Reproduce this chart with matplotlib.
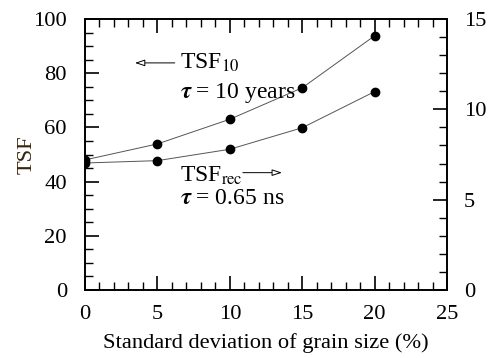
import matplotlib
matplotlib.use("Agg")
import matplotlib.pyplot as plt
from matplotlib.ticker import MultipleLocator

plt.rcParams['font.family'] = ['Liberation Serif', 'DejaVu Serif']
plt.rcParams['mathtext.fontset'] = 'stix'

sigma = [0, 5, 10, 15, 20]
tsf10 = [48.0, 53.9, 63.0, 74.6, 93.8]
tsfrec = [7.03, 7.16, 7.79, 8.98, 10.98]

fig = plt.figure(figsize=(4.89, 3.58), dpi=100)
ax = fig.add_axes([85/489, 1-290/358, 362/489, 271/358])
ax2 = ax.twinx()

ax.plot(sigma, tsf10, color='#555555', lw=0.7, marker='o', ms=6, mfc='black', mec='black')
ax2.plot(sigma, tsfrec, color='#555555', lw=0.7, marker='o', ms=6, mfc='black', mec='black')

ax.set_xlim(0, 25)
ax.set_ylim(0, 100)
ax2.set_ylim(0, 15)
ax.xaxis.set_major_locator(MultipleLocator(5))
ax.xaxis.set_minor_locator(MultipleLocator(1))
ax.yaxis.set_major_locator(MultipleLocator(20))
ax.yaxis.set_minor_locator(MultipleLocator(5))
ax2.yaxis.set_major_locator(MultipleLocator(5))
ax2.yaxis.set_minor_locator(MultipleLocator(1))

fs = 16.2
ax.tick_params(axis='x', which='both', direction='in', top=True, bottom=True, labelsize=fs, pad=11)
ax.tick_params(axis='y', which='both', direction='in', left=True, right=False, labelsize=fs, pad=13)
ax2.tick_params(axis='y', which='both', direction='in', labelsize=fs, pad=12)
for a in (ax, ax2):
    a.tick_params(which='major', length=10, width=1.2)
    a.tick_params(which='minor', length=6, width=1.0)
    for s in a.spines.values():
        s.set_linewidth(1.2)

ax.set_xlabel('Standard deviation of grain size (%)', fontsize=fs, labelpad=6)
ax.set_ylabel('TSF', fontsize=fs, color='#3a2408')
ax.yaxis.set_label_coords(-0.135, 0.5)

tfs = 17
arrowkw = dict(arrowstyle='-|>,head_length=0.6,head_width=0.2', lw=0.7,
               color='black', fc='white', shrinkA=0, shrinkB=0)
ax.annotate('', xy=(3.45, 83.8), xytext=(6.2, 83.8), arrowprops=arrowkw)
ax.text(6.55, 83.8, r'TSF$_{10}$', fontsize=tfs, va='center', ha='left')
ax.text(6.55, 72.8, r'$\boldsymbol{\tau}$ = 10 years', fontsize=tfs, va='center', ha='left')
ax.annotate('', xy=(13.6, 43.3), xytext=(10.9, 43.3), arrowprops=arrowkw)
ax.text(6.55, 42.3, r'TSF$_{\mathrm{rec}}$', fontsize=tfs, va='center', ha='left')
ax.text(6.55, 33.8, r'$\boldsymbol{\tau}$ = 0.65 ns', fontsize=tfs, va='center', ha='left')

fig.savefig('out.png', dpi=100)
